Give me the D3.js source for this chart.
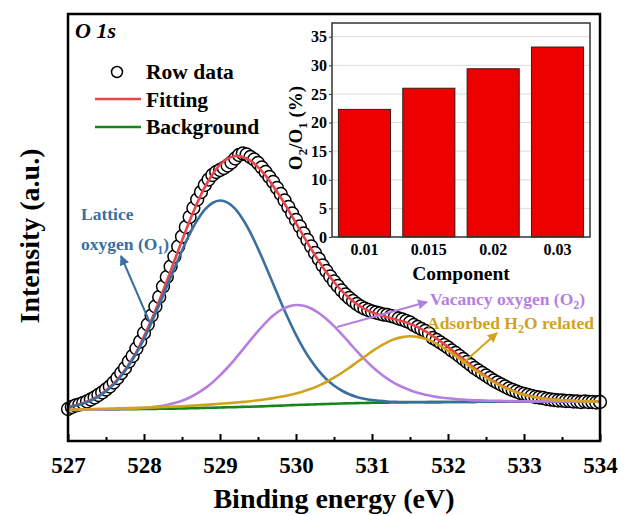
<!DOCTYPE html>
<html>
<head>
<meta charset="utf-8">
<script src="https://cdn.jsdelivr.net/npm/d3@7"></script>
<style>
  body { margin: 0; background: #fff; }
  svg { display: block; font-family: "Liberation Serif", "Times New Roman", serif; font-weight: bold; }
</style>
</head>
<body>
<div id="chart"></div>
<script>
// raw XPS points, 527.00 .. 534.00 eV every 0.05 eV (a.u., baseline = 0)
const rowData = [
  1.0, 3.0, 4.5, 5.5, 7.0, 8.5, 10.5, 12.5, 15.0, 17.5,
  20.5, 23.5, 27.5, 32.0, 37.0, 42.0, 48.5, 54.0, 61.5, 68.5,
  77.0, 85.5, 94.5, 103.5, 113.0, 123.5, 133.0, 143.5, 153.5, 163.5,
  173.5, 183.0, 193.0, 202.0, 210.5, 218.0, 225.0, 230.5, 235.0, 238.0,
  240.0, 242.0, 244.5, 247.5, 251.5, 255.0, 256.5, 255.5, 253.0, 250.5,
  247.0, 242.5, 238.0, 233.0, 228.0, 222.0, 216.0, 209.5, 203.0, 196.5,
  190.0, 183.5, 176.5, 170.0, 163.5, 157.0, 151.0, 144.5, 139.0, 133.5,
  128.5, 124.0, 119.5, 115.5, 112.0, 109.0, 106.0, 103.5, 101.5, 100.0,
  98.5, 97.5, 96.5, 95.5, 95.0, 94.0, 93.0, 91.5, 90.5, 89.0,
  87.5, 85.0, 83.0, 81.0, 79.0, 76.5, 72.0, 70.0, 67.5, 65.0,
  62.5, 59.5, 57.0, 54.0, 51.0, 48.0, 45.0, 42.0, 39.5, 37.0,
  34.5, 32.0, 29.5, 27.5, 25.5, 23.5, 21.5, 20.0, 18.5, 17.0,
  16.0, 15.0, 14.0, 13.0, 12.5, 12.0, 11.0, 10.5, 10.0, 9.5,
  9.5, 9.0, 9.0, 8.5, 8.5, 8.0, 8.5, 8.0, 8.0, 7.5,
  8.0
];

// fitted curves, 527.0 .. 534.0 eV every 0.1 eV
const fitting = [
  3.0, 4.7, 6.9, 10.0, 14.1, 19.6, 26.3, 35.0, 45.6, 58.0,
  73.6, 90.5, 109.0, 128.8, 149.2, 169.4, 189.0, 207.0, 222.9, 235.6,
  245.3, 251.3, 254.0, 253.1, 249.3, 242.9, 234.4, 224.1, 212.5, 199.9,
  186.8, 173.7, 161.0, 148.9, 137.7, 128.0, 119.3, 112.0, 105.9, 101.1,
  97.6, 95.1, 92.8, 90.8, 88.7, 86.1, 82.8, 78.8, 74.1, 68.7,
  63.1, 57.0, 50.9, 44.7, 39.0, 33.7, 28.9, 24.7, 21.1, 18.1,
  15.6, 13.8, 12.3, 11.3, 10.4, 9.8, 9.4, 9.0, 8.8, 8.7, 8.6
];
const background = [
  0, 0.1, 0.2, 0.3, 0.4, 0.5, 0.6, 0.7, 0.8, 0.9,
  1.0, 1.1, 1.2, 1.3, 1.4, 1.5, 1.7, 1.9, 2.1, 2.3,
  2.5, 2.7, 2.9, 3.1, 3.3, 3.5, 3.8, 4.1, 4.4, 4.7,
  5.0, 5.3, 5.5, 5.8, 6.0, 6.3, 6.5, 6.7, 6.9, 7.0,
  7.2, 7.3, 7.4, 7.5, 7.6, 7.7, 7.8, 7.8, 7.9, 7.9,
  8.0, 8.0, 8.1, 8.1, 8.2, 8.2, 8.2, 8.3, 8.3, 8.3,
  8.3, 8.3, 8.3, 8.4, 8.4, 8.4, 8.4, 8.4, 8.4, 8.4, 8.4
];
const latticeO1 = [
  2.7, 4.3, 6.4, 9.4, 13.4, 18.7, 25.4, 34.0, 44.5, 56.8,
  71.2, 87.4, 104.9, 123.2, 141.7, 159.4, 175.8, 189.6, 200.4, 207.0,
  209.5, 207.4, 201.2, 190.8, 177.4, 161.4, 144.1, 126.0, 108.1, 91.0,
  75.2, 61.2, 49.2, 39.1, 30.8, 24.5, 19.5, 15.8, 13.1, 11.2,
  9.9, 9.1, 8.5, 8.2, 8.0, 8.0, 8.0, 7.9, 7.9, 7.9,
  8.0, 8.0, 8.1, 8.1, 8.2, 8.2, 8.2, 8.3, 8.3, 8.3,
  8.3, 8.3, 8.3, 8.4, 8.4, 8.4, 8.4, 8.4, 8.4, 8.4, 8.4
];
const vacancyO2 = [
  0, 0.1, 0.2, 0.3, 0.4, 0.6, 0.75, 0.95, 1.2, 1.6,
  2.1, 2.8, 3.7, 5.1, 6.9, 9.3, 12.5, 16.6, 21.6, 27.6,
  34.6, 42.5, 51.2, 60.4, 69.7, 78.8, 87.2, 94.4, 100.0, 103.6,
  105.0, 104.3, 101.5, 97.0, 90.9, 83.8, 75.8, 67.4, 58.9, 50.8,
  43.5, 37.1, 31.4, 26.7, 23.0, 19.8, 17.3, 15.3, 13.8, 12.5,
  11.7, 10.9, 10.4, 9.9, 9.6, 9.4, 9.2, 9.1, 8.9, 8.8,
  8.7, 8.65, 8.6, 8.65, 8.6, 8.6, 8.55, 8.5, 8.5, 8.5, 8.5
];
const adsorbedH2O = [
  0.3, 0.5, 0.7, 0.9, 1.1, 1.3, 1.5, 1.7, 1.9, 2.1,
  2.3, 2.5, 2.8, 3.1, 3.4, 3.7, 4.1, 4.6, 5.1, 5.6,
  6.2, 6.8, 7.4, 8.1, 8.8, 9.7, 10.7, 11.9, 13.2, 14.7,
  16.6, 18.8, 21.3, 24.4, 28.0, 32.3, 37.0, 42.2, 47.7, 53.1,
  58.6, 63.5, 67.7, 70.9, 72.9, 73.7, 73.1, 71.2, 68.2, 64.1,
  59.4, 54.1, 48.6, 42.9, 37.6, 32.5, 27.9, 23.9, 20.5, 17.6,
  15.2, 13.4, 12.0, 11.0, 10.2, 9.6, 9.2, 8.9, 8.7, 8.6, 8.5
];

const xTicks = [527, 528, 529, 530, 531, 532, 533, 534];

// inset bar chart
const components = ['0.01', '0.015', '0.02', '0.03'];
const ratioO2O1 = [22.3, 26.0, 29.4, 33.2];
const insetTicks = [0, 5, 10, 15, 20, 25, 30, 35];

const colors = {
  fit: '#e8454a',
  bg: '#15861a',
  o1: '#3a6fa2',
  o2: '#b47fe0',
  h2o: '#d1a21c'
};

const W = 627, H = 516;
const svg = d3.select('#chart').append('svg')
  .attr('width', W)
  .attr('height', H);

const pLeft = 68, pTop = 14, pRight = 600, pBottom = 441;

const x = d3.scaleLinear().domain([527, 534]).range([pLeft, pRight]);
const y = d3.scaleLinear().domain([-31, 396]).range([pBottom, pTop]);

const ptsE = rowData.map((v, i) => 527 + i * 0.05);
const fitE = fitting.map((v, i) => 527 + i * 0.1);

const defs = svg.append('defs');
defs.append('clipPath').attr('id', 'plotClip')
  .append('rect').attr('x', pLeft - 8).attr('y', pTop).attr('width', pRight - pLeft + 16).attr('height', pBottom - pTop);

function arrowMarker(id, color) {
  defs.append('marker')
    .attr('id', id)
    .attr('viewBox', '0 0 10 10')
    .attr('refX', 9).attr('refY', 5)
    .attr('markerWidth', 5).attr('markerHeight', 5)
    .attr('markerUnits', 'strokeWidth')
    .attr('orient', 'auto')
    .append('path')
    .attr('d', 'M0,0 L10,5 L0,10 z')
    .attr('fill', color);
}
arrowMarker('arO1', colors.o1);
arrowMarker('arO2', colors.o2);
arrowMarker('arH2O', colors.h2o);

const plot = svg.append('g').attr('clip-path', 'url(#plotClip)');

// data circles
plot.selectAll('circle.pt')
  .data(rowData)
  .enter().append('circle')
  .attr('class', 'pt')
  .attr('cx', (d, i) => x(ptsE[i]))
  .attr('cy', d => y(d))
  .attr('r', 6.4)
  .attr('fill', '#fff')
  .attr('stroke', '#000')
  .attr('stroke-width', 1.5);

const line = d3.line()
  .x((d, i) => x(fitE[i]))
  .y(d => y(d))
  .curve(d3.curveCatmullRom);

const curves = [
  [fitting, colors.fit],
  [background, colors.bg],
  [latticeO1, colors.o1],
  [vacancyO2, colors.o2],
  [adsorbedH2O, colors.h2o]
];
curves.forEach(c => {
  plot.append('path')
    .attr('d', line(c[0]))
    .attr('fill', 'none')
    .attr('stroke', c[1])
    .attr('stroke-width', 2.6);
});

// frame
svg.append('rect')
  .attr('x', pLeft).attr('y', pTop)
  .attr('width', pRight - pLeft).attr('height', pBottom - pTop)
  .attr('fill', 'none')
  .attr('stroke', '#000')
  .attr('stroke-width', 2.5);

// x axis, ticks pointing in
const xAxis = svg.append('g')
  .attr('transform', `translate(0,${pBottom})`)
  .call(d3.axisBottom(x).tickValues(xTicks).tickSize(-7).tickPadding(16).tickFormat(d3.format('d')));
xAxis.select('.domain').remove();
xAxis.selectAll('line').attr('stroke', '#000').attr('stroke-width', 2);
xAxis.selectAll('text')
  .attr('fill', '#000')
  .style('font-size', '23px')
  .style('font-family', '"Liberation Serif", serif')
  .style('font-weight', 'bold');

const minor = svg.append('g')
  .attr('transform', `translate(0,${pBottom})`)
  .call(d3.axisBottom(x).tickValues(xTicks.slice(0, -1).map(d => d + 0.5)).tickSize(-4).tickFormat(''));
minor.select('.domain').remove();
minor.selectAll('line').attr('stroke', '#000').attr('stroke-width', 2);

svg.append('text')
  .attr('x', (pLeft + pRight) / 2)
  .attr('y', 508)
  .attr('text-anchor', 'middle')
  .style('font-size', '28px')
  .text('Binding energy (eV)');

svg.append('text')
  .attr('transform', `translate(39,236) rotate(-90)`)
  .attr('text-anchor', 'middle')
  .style('font-size', '28px')
  .text('Intensity (a.u.)');

svg.append('text')
  .attr('x', 75).attr('y', 38)
  .style('font-size', '22px')
  .style('font-style', 'italic')
  .text('O 1s');

// legend
const legend = svg.append('g');
legend.append('circle')
  .attr('cx', 117).attr('cy', 72).attr('r', 5.5)
  .attr('fill', '#fff').attr('stroke', '#000').attr('stroke-width', 1.5);
legend.append('line')
  .attr('x1', 95).attr('x2', 141).attr('y1', 99).attr('y2', 99)
  .attr('stroke', colors.fit).attr('stroke-width', 2.6);
legend.append('line')
  .attr('x1', 95).attr('x2', 141).attr('y1', 127).attr('y2', 127)
  .attr('stroke', colors.bg).attr('stroke-width', 2.6);
[['Row data', 79], ['Fitting', 107], ['Background', 134]].forEach(t => {
  legend.append('text')
    .attr('x', 146).attr('y', t[1])
    .style('font-size', '21.5px')
    .text(t[0]);
});

// annotations
const ann = svg.append('g').style('font-size', '17.5px');
ann.append('text').attr('x', 81).attr('y', 220).attr('fill', colors.o1).text('Lattice');
const o1Text = ann.append('text').attr('x', 81).attr('y', 250).attr('fill', colors.o1);
o1Text.append('tspan').text('oxygen (O');
o1Text.append('tspan').attr('dy', 4).style('font-size', '12px').text('1');
o1Text.append('tspan').attr('dy', -4).text(')');
ann.append('line')
  .attr('x1', 150).attr('y1', 323).attr('x2', 121).attr('y2', 256)
  .attr('stroke', colors.o1).attr('stroke-width', 2)
  .attr('marker-end', 'url(#arO1)');

const o2Text = ann.append('text').attr('x', 430).attr('y', 305).attr('fill', colors.o2);
o2Text.append('tspan').text('Vacancy oxygen (O');
o2Text.append('tspan').attr('dy', 4).style('font-size', '12px').text('2');
o2Text.append('tspan').attr('dy', -4).text(')');
ann.append('line')
  .attr('x1', 337).attr('y1', 327).attr('x2', 427).attr('y2', 302)
  .attr('stroke', colors.o2).attr('stroke-width', 2)
  .attr('marker-end', 'url(#arO2)');

const hText = ann.append('text').attr('x', 427).attr('y', 329).attr('fill', colors.h2o);
hText.append('tspan').text('Adsorbed H');
hText.append('tspan').attr('dy', 4).style('font-size', '12px').text('2');
hText.append('tspan').attr('dy', -4).text('O related');
ann.append('line')
  .attr('x1', 462).attr('y1', 364).attr('x2', 497).attr('y2', 333)
  .attr('stroke', colors.h2o).attr('stroke-width', 2)
  .attr('marker-end', 'url(#arH2O)');

// ---- inset ----
const iL = 332, iR = 590, iT = 23, iB = 237;
const ix = d3.scaleBand().domain(components).range([iL, iR]).paddingInner(0.19).paddingOuter(0.1);
const iy = d3.scaleLinear().domain([0, 37.4]).range([iB, iT]);

const inset = svg.append('g');
inset.append('rect')
  .attr('x', iL).attr('y', iT).attr('width', iR - iL).attr('height', iB - iT)
  .attr('fill', '#fff');

inset.selectAll('line.grid')
  .data(insetTicks.slice(1))
  .enter().append('line')
  .attr('class', 'grid')
  .attr('x1', iL).attr('x2', iR)
  .attr('y1', d => iy(d)).attr('y2', d => iy(d))
  .attr('stroke', '#dcdcdc').attr('stroke-width', 1);

inset.selectAll('rect.bar')
  .data(ratioO2O1)
  .enter().append('rect')
  .attr('class', 'bar')
  .attr('x', (d, i) => ix(components[i]))
  .attr('y', d => iy(d))
  .attr('width', ix.bandwidth())
  .attr('height', d => iB - iy(d))
  .attr('fill', '#ec0000')
  .attr('stroke', '#3a1a1a')
  .attr('stroke-width', 1);

inset.append('rect')
  .attr('x', iL).attr('y', iT).attr('width', iR - iL).attr('height', iB - iT)
  .attr('fill', 'none').attr('stroke', '#333').attr('stroke-width', 1.5);

const iyAxis = inset.append('g')
  .attr('transform', `translate(${iL},0)`)
  .call(d3.axisLeft(iy).tickValues(insetTicks).tickSize(3).tickPadding(2));
iyAxis.select('.domain').remove();
iyAxis.selectAll('line').attr('stroke', '#333');
iyAxis.selectAll('text')
  .attr('fill', '#000')
  .style('font-size', '16px')
  .style('font-family', '"Liberation Serif", serif')
  .style('font-weight', 'bold');

const ixAxis = inset.append('g')
  .attr('transform', `translate(0,${iB})`)
  .call(d3.axisBottom(ix).tickSize(0).tickPadding(7));
ixAxis.select('.domain').remove();
ixAxis.selectAll('text')
  .attr('fill', '#000')
  .style('font-size', '16px')
  .style('font-family', '"Liberation Serif", serif')
  .style('font-weight', 'bold');

inset.append('text')
  .attr('x', (iL + iR) / 2).attr('y', 280)
  .attr('text-anchor', 'middle')
  .style('font-size', '19.5px')
  .text('Component');

const iyLabel = inset.append('text')
  .attr('transform', `translate(302,${(iT + iB) / 2 - 2}) rotate(-90)`)
  .attr('text-anchor', 'middle')
  .style('font-size', '19px');
iyLabel.append('tspan').text('O');
iyLabel.append('tspan').attr('dy', 5).style('font-size', '13px').text('2');
iyLabel.append('tspan').attr('dy', -5).text('/O');
iyLabel.append('tspan').attr('dy', 5).style('font-size', '13px').text('1');
iyLabel.append('tspan').attr('dy', -5).text(' (%)');
</script>
</body>
</html>
